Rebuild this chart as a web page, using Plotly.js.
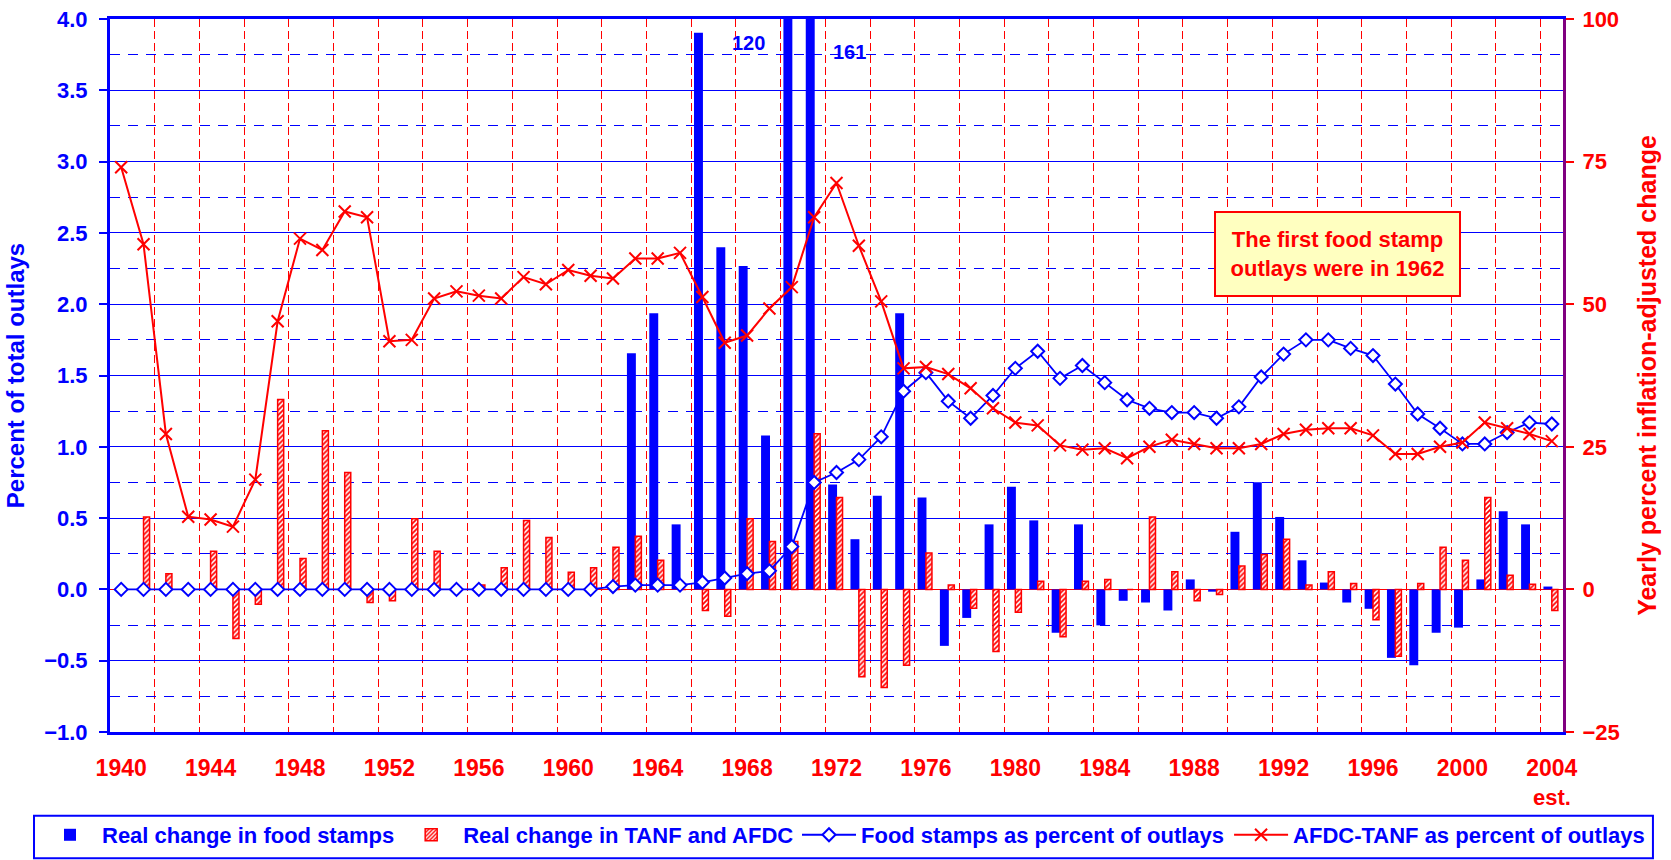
<!DOCTYPE html>
<html>
<head>
<meta charset="utf-8">
<script src="https://cdn.plot.ly/plotly-3.0.1.min.js"></script>
<style>html,body{margin:0;padding:0;background:#fff;}#chart{width:1671px;height:860px;}</style>
</head>
<body>
<div id="chart"></div>
<script>
// ---- Data ----
const years = [1940,1941,1942,1943,1944,1945,1946,1947,1948,1949,
               1950,1951,1952,1953,1954,1955,1956,1957,1958,1959,
               1960,1961,1962,1963,1964,1965,1966,1967,1968,1969,
               1970,1971,1972,1973,1974,1975,1976,1977,1978,1979,
               1980,1981,1982,1983,1984,1985,1986,1987,1988,1989,
               1990,1991,1992,1993,1994,1995,1996,1997,1998,1999,
               2000,2001,2002,2003,2004];

// Real change in food stamps (yearly percent, right axis)
const foodStampChange = [null,null,null,null,null,null,null,null,null,null,
                         null,null,null,null,null,null,null,null,null,null,
                         null,null,null,41.4,48.4,11.4,97.6,60.0,56.7,27.0,
                         120,161,18.4,8.8,16.4,48.4,16.1,-9.9,-5.0,11.4,
                         18.0,12.1,-7.6,11.4,-6.3,-2.0,-2.3,-3.7,1.75,-0.4,
                         10.1,18.8,12.7,5.1,1.2,-2.3,-3.4,-12.0,-13.3,-7.6,
                         -6.7,1.75,13.7,11.4,0.5];

// Real change in TANF and AFDC (yearly percent, right axis)
const tanfChange = [null,12.7,2.75,0,6.7,-8.6,-2.6,33.3,5.4,27.8,
                    20.5,-2.3,-2.0,12.4,6.7,0,0.75,3.8,12.1,9.1,
                    3.0,3.8,7.4,9.3,5.1,0,-3.7,-4.7,12.4,8.4,
                    8.4,27.3,16.1,-15.3,-17.2,-13.3,6.4,0.75,-3.3,-10.9,
                    -4.0,1.45,-8.3,1.45,1.75,0,12.7,3.1,-2.0,-0.9,
                    4.1,6.1,8.8,0.75,3.1,1.05,-5.3,-11.7,1.05,7.4,
                    5.1,16.1,2.5,0.9,-3.7];

// Food stamps as percent of outlays (left axis)
const foodStampPct = [0,0,0,0,0,0,0,0,0,0,
                      0,0,0,0,0,0,0,0,0,0,
                      0,0,0.02,0.03,0.03,0.03,0.05,0.08,0.11,0.13,
                      0.30,0.75,0.82,0.91,1.07,1.39,1.52,1.32,1.20,1.36,
                      1.55,1.67,1.48,1.57,1.45,1.33,1.27,1.24,1.24,1.20,
                      1.28,1.49,1.65,1.75,1.75,1.69,1.64,1.44,1.23,1.13,
                      1.02,1.02,1.10,1.17,1.16];

// AFDC-TANF as percent of outlays (left axis)
const afdcPct = [2.96,2.42,1.09,0.51,0.49,0.44,0.77,1.88,2.46,2.38,
                 2.65,2.61,1.74,1.75,2.04,2.09,2.06,2.04,2.19,2.14,
                 2.24,2.20,2.18,2.32,2.32,2.36,2.05,1.73,1.78,1.97,
                 2.12,2.61,2.85,2.41,2.02,1.55,1.56,1.51,1.41,1.27,
                 1.17,1.15,1.01,0.98,0.99,0.92,1.00,1.05,1.02,0.99,
                 0.99,1.02,1.09,1.12,1.13,1.13,1.08,0.95,0.95,1.00,
                 1.03,1.17,1.13,1.09,1.04];

const seriesNames = ["Real change in food stamps", "Real change in TANF and AFDC",
                     "Food stamps as percent of outlays", "AFDC-TANF as percent of outlays"];
const noteText = "The first food stamp<br>outlays were in 1962";
const estLabel = "est.";

// ---- Style ----
const BLUE = "#0000ff", RED = "#ff0000", PURPLE = "#800080";
const FAM = "Liberation Sans, Arial, sans-serif";
const rightMax = 100;

const traces = [
  {
    type: "bar", name: seriesNames[0], x: years, y: foodStampChange, yaxis: "y", legend: "legend",
    offset: -0.375, width: 0.40,
    marker: {color: BLUE, line: {width: 0}}
  },
  {
    type: "bar", name: seriesNames[1], x: years, y: tanfChange, yaxis: "y", legend: "legend",
    offset: 0.0, width: 0.27,
    marker: {color: "#ffffff", line: {color: RED, width: 1.5},
             pattern: {shape: "/", fgcolor: RED, bgcolor: "#ffffff", size: 3.5, solidity: 0.5}}
  },
  {
    type: "scatter", mode: "lines+markers", name: seriesNames[2], x: years, y: foodStampPct, yaxis: "y2", legend: "legend2",
    line: {color: BLUE, width: 1.8},
    marker: {symbol: "diamond", size: 10, color: "#ffffff", line: {color: BLUE, width: 2}}
  },
  {
    type: "scatter", mode: "lines+markers", name: seriesNames[3], x: years, y: afdcPct, yaxis: "y2", legend: "legend2",
    line: {color: RED, width: 2},
    marker: {symbol: "x-thin", size: 12, color: RED, line: {color: RED, width: 2}}
  }
];

// labels for bars that run off the top of the chart
const annotations = [];
const offTopShift = [[-43, -24], [35, -33]];
let k = 0;
foodStampChange.forEach((v, i) => {
  if (v !== null && v > rightMax) {
    const s = offTopShift[k] || [0, -24];
    annotations.push({
      x: years[i], xref: "x", y: 1, yref: "paper", text: String(v),
      showarrow: false, xshift: s[0], yshift: s[1], xanchor: "center", yanchor: "middle",
      font: {family: FAM, size: 20, color: BLUE, weight: "bold"}
    });
    k++;
  }
});
annotations.push({
  x: 0.8448, xref: "paper", y: 0.6704, yref: "paper", text: noteText,
  xanchor: "center", yanchor: "middle",
  showarrow: false, align: "center", width: 241, height: 80,
  bgcolor: "#ffffc0", bordercolor: RED, borderwidth: 2, borderpad: 1,
  font: {family: FAM, size: 22, color: RED, weight: "bold"}
});
annotations.push({
  x: years[years.length - 1], xref: "x", y: -0.0912, yref: "paper", text: estLabel,
  showarrow: false, xanchor: "center", yanchor: "middle",
  font: {family: FAM, size: 22, color: RED, weight: "bold"}
});

const legendCommon = {
  orientation: "h", xref: "container", yref: "container",
  xanchor: "left", y: 0.0291, yanchor: "middle",
  bgcolor: "rgba(0,0,0,0)", borderwidth: 0,
  itemwidth: 54, traceorder: "normal",
  font: {family: FAM, size: 22, color: BLUE, weight: "bold"}
};

const layout = {
  width: 1671, height: 860,
  margin: {l: 110, r: 108, t: 19, b: 128, pad: 0},
  paper_bgcolor: "#ffffff", plot_bgcolor: "#ffffff",
  barmode: "overlay",
  showlegend: true,
  font: {family: FAM, size: 22, weight: "bold"},
  xaxis: {
    type: "linear", range: [1939.5, 2004.5], tick0: 1940, dtick: 4,
    showgrid: false, zeroline: false,
    showline: true, linecolor: BLUE, linewidth: 3, mirror: true,
    ticks: "", ticklabelstandoff: 13,
    tickfont: {family: FAM, size: 23, color: RED, weight: "bold"},
    minor: {tick0: 1941.5, dtick: 2, showgrid: true, gridcolor: RED, gridwidth: 1, griddash: "8px,4px", ticks: ""}
  },
  yaxis: {
    side: "right", range: [-25, 100], tick0: 0, dtick: 25,
    showgrid: false,
    zeroline: true, zerolinecolor: RED, zerolinewidth: 1,
    showline: true, linecolor: PURPLE, linewidth: 3,
    ticks: "outside", ticklen: 8, tickwidth: 2, tickcolor: RED, ticklabelstandoff: 4,
    tickfont: {family: FAM, size: 22, color: RED, weight: "bold"},
    title: {text: "Yearly percent inflation-adjusted change", standoff: 20,
            font: {family: FAM, size: 25, color: RED, weight: "bold"}}
  },
  yaxis2: {
    overlaying: "y", side: "left", range: [-1, 4], tick0: 0, dtick: 0.5, tickformat: ".1f",
    showgrid: true, gridcolor: BLUE, gridwidth: 1,
    minor: {dtick: 0.25, showgrid: true, gridcolor: BLUE, gridwidth: 1, griddash: "10px,8px", ticks: ""},
    zeroline: false,
    showline: true, linecolor: BLUE, linewidth: 3,
    ticks: "outside", ticklen: 8, tickwidth: 2, tickcolor: BLUE, ticklabelstandoff: 7,
    tickfont: {family: FAM, size: 22, color: BLUE, weight: "bold"},
    title: {text: "Percent of total outlays", standoff: 13,
            font: {family: FAM, size: 24, color: BLUE, weight: "bold"}}
  },
  legend: Object.assign({}, legendCommon, {x: 38 / 1671}),
  legend2: Object.assign({}, legendCommon, {x: 797 / 1671}),
  shapes: [{
    type: "rect", xref: "paper", yref: "paper",
    x0: -0.0523, x1: 1.0619, y0: -0.1771, y1: -0.1174,
    line: {color: BLUE, width: 2}, fillcolor: "rgba(0,0,0,0)", layer: "above"
  }],
  annotations: annotations
};

Plotly.newPlot("chart", traces, layout, {staticPlot: true, displayModeBar: false});
</script>
</body>
</html>
